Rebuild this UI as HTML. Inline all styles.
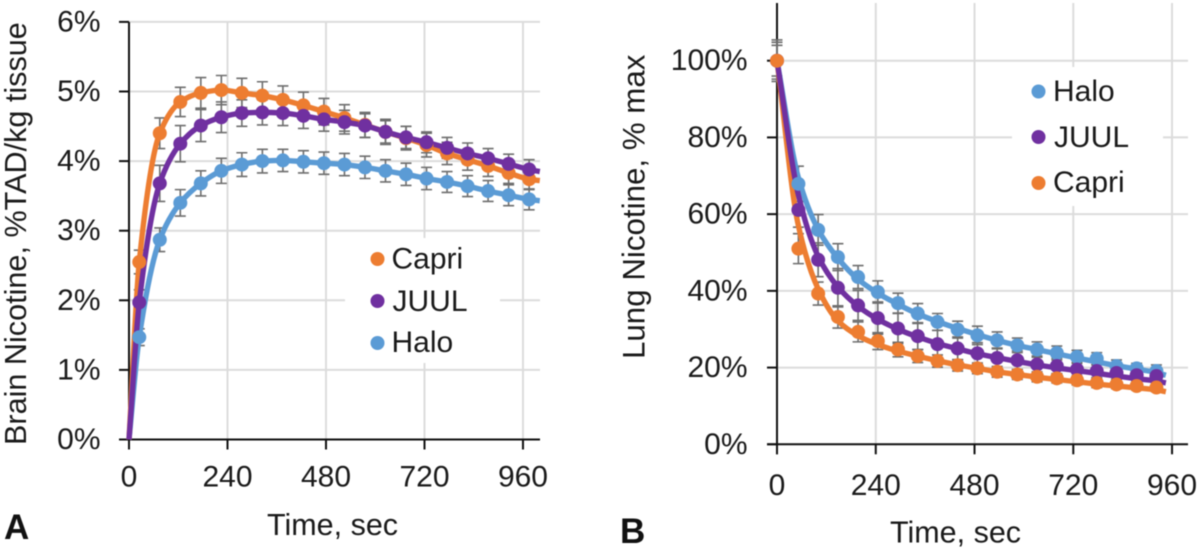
<!DOCTYPE html>
<html lang="en">
<head>
<meta charset="utf-8">
<title>Brain and lung nicotine over time</title>
<style>
html,body{margin:0;padding:0;background:#fff;width:1200px;height:550px;overflow:hidden}
svg{display:block;filter:blur(.45px)}
text{font-family:"Liberation Sans",Arial,sans-serif;fill:#1a1a1a}
</style>
</head>
<body>
<svg id="figure" xmlns="http://www.w3.org/2000/svg" width="1200" height="550" viewBox="0 0 1200 550">
  <rect width="1200" height="550" fill="#fff"/>
  <g id="panelA"></g>
  <g id="panelB"></g>

  <g>
    <text transform="translate(26,445) rotate(-90)" font-size="30.6">Brain Nicotine, %TAD/kg tissue</text>
    <text x="267" y="535" font-size="30.5">Time, sec</text>
    <text x="4" y="539" font-size="35" font-weight="bold" style="fill:#111">A</text>
  </g>
  <g>
    <rect x="345" y="238" width="155" height="125" fill="#fff"/>
    <circle cx="377.5" cy="259" r="7" fill="#ED7D31"/>
    <text x="391.5" y="268.5" font-size="30">Capri</text>
    <circle cx="377.5" cy="301" r="7" fill="#7030A0"/>
    <text x="392.5" y="311" font-size="30">JUUL</text>
    <circle cx="377.5" cy="343" r="7" fill="#5B9BD5"/>
    <text x="391.5" y="352" font-size="30">Halo</text>
  </g>

  <g>
    <text transform="translate(644.5,359) rotate(-90)" font-size="31.3">Lung Nicotine, % max</text>
    <text x="890" y="542.5" font-size="30.5">Time, sec</text>
    <text x="620" y="543" font-size="35" font-weight="bold" style="fill:#111">B</text>
  </g>
  <g>
    <rect x="1012" y="67" width="151" height="139" fill="#fff"/>
    <circle cx="1038.5" cy="91.5" r="7" fill="#5B9BD5"/>
    <text x="1053" y="101" font-size="30">Halo</text>
    <circle cx="1038.5" cy="137" r="7" fill="#7030A0"/>
    <text x="1054" y="147" font-size="30">JUUL</text>
    <circle cx="1038.5" cy="183" r="7" fill="#ED7D31"/>
    <text x="1053" y="192" font-size="30">Capri</text>
  </g>
</svg>

<script>
// ---------- Shared tick data ----------
const xTickValues = [0, 240, 480, 720, 960];
const brainYTicks = [0, 1, 2, 3, 4, 5, 6];
const lungYTicks = [0, 20, 40, 60, 80, 100];

// ---------- Panel A: brain nicotine (%TAD/kg tissue) ----------
const brainTimes = [25,75,125,175,225,275,325,375,425,475,525,575,625,675,725,775,825,875,925,975];
const brainCapri = [2.55,4.40,4.85,4.98,5.02,4.98,4.94,4.88,4.80,4.71,4.62,4.52,4.42,4.33,4.23,4.11,4.02,3.93,3.83,3.74];
const brainJuul  = [1.97,3.68,4.25,4.51,4.63,4.69,4.70,4.69,4.65,4.60,4.56,4.51,4.42,4.34,4.27,4.19,4.11,4.04,3.96,3.88];
const brainHalo  = [1.47,2.87,3.40,3.68,3.86,3.95,4.00,4.01,3.99,3.97,3.95,3.91,3.86,3.81,3.75,3.70,3.64,3.57,3.51,3.45];
const brainCapriErr = [.17,.22,.21,.22,.21,.21,.20,.20,.19,.19,.19,.18,.18,.17,.17,.16,.15,.15,.15,.15];
const brainJuulErr  = [.18,.26,.26,.23,.22,.19,.18,.18,.18,.17,.17,.17,.16,.16,.15,.15,.15,.14,.14,.14];
const brainHaloErr  = [.12,.17,.19,.18,.18,.17,.17,.16,.16,.16,.16,.16,.16,.16,.16,.15,.15,.15,.15,.15];
const brainFitEndTime = 1001;
const brainCapriEnd = 3.72;
const brainJuulEnd = 3.85;
const brainHaloEnd = 3.43;

// ---------- Panel B: lung nicotine (% max) ----------
const lungTimes = [0,52,100,148,197,245,294,342,390,439,487,535,584,632,680,729,777,825,874,922];
const lungHalo  = [100,67.9,55.9,48.8,43.6,39.7,36.8,34.1,31.9,29.9,28.4,27.1,25.8,24.7,23.8,22.8,22.3,20.4,19.8,19.1];
const lungJuul  = [100,61.1,48.1,40.8,36.2,32.9,30.2,28.2,26.1,25.0,23.7,22.5,21.9,20.8,20.4,19.5,19.1,18.6,18.0,17.8];
const lungCapri = [100,51.0,39.3,33.2,29.3,26.9,24.7,23.0,21.7,20.6,19.8,18.9,18.2,17.6,17.2,16.7,16.0,15.6,15.2,14.8];
const lungHaloErr  = [5.4,4.6,4.0,3.5,3.0,2.9,2.6,2.6,2.2,2.2,2.4,2.2,1.9,2.0,1.8,1.7,1.6,1.6,1.3,1.6];
const lungJuulErr  = [4.0,4.5,4.4,5.0,3.9,4.2,3.9,3.5,3.6,3.0,2.8,2.6,2.4,2.2,2.0,1.8,1.7,1.6,1.5,1.5];
const lungCapriErr = [4.8,3.9,3.0,2.9,2.6,2.2,1.9,1.7,1.6,1.5,1.4,1.4,1.3,1.3,1.2,1.2,1.2,1.1,1.1,1.1];
const lungFitTimes = [0,52,100,148,197,245,294,342,390,439,487,535,584,632,680,729,777,825,874,922,945];
const lungHaloFit  = [100,69.5,56,48.5,43,39.4,36.5,34,32,30.2,28.6,27.1,25.8,24.7,23.6,22.5,21.5,20.5,19.6,18.7,18];
const lungJuulFit  = [100,65,49,41,36,32.6,30,28,26.3,24.9,23.6,22.6,21.6,20.7,19.9,19.2,18.5,17.8,17.1,16.5,16];
const lungCapriFit = [100,57,40.5,32.2,28.3,26,24.3,23,21.8,20.7,19.8,18.9,18.2,17.5,16.9,16.3,15.7,15.2,14.7,14.2,13.7];

const SVG_NS = 'http://www.w3.org/2000/svg';
const ORANGE = '#ED7D31', PURPLE = '#7030A0', BLUE = '#5B9BD5';

function make(parent, tag, attrs, content) {
  const node = document.createElementNS(SVG_NS, tag);
  for (const key in attrs) node.setAttribute(key, attrs[key]);
  if (content !== undefined) node.textContent = content;
  parent.appendChild(node);
  return node;
}

// Monotone cubic path through the given pixel points
function smoothPath(pts) {
  const n = pts.length;
  const slopes = [], tangents = [];
  for (let i = 0; i < n - 1; i++) {
    slopes.push((pts[i + 1][1] - pts[i][1]) / (pts[i + 1][0] - pts[i][0]));
  }
  tangents.push(slopes[0]);
  for (let i = 1; i < n - 1; i++) {
    if (slopes[i - 1] * slopes[i] <= 0) {
      tangents.push(0);
    } else {
      const h0 = pts[i][0] - pts[i - 1][0], h1 = pts[i + 1][0] - pts[i][0];
      tangents.push((h0 + h1) * 3 / ((2 * h1 + h0) / slopes[i - 1] + (h1 + 2 * h0) / slopes[i]));
    }
  }
  tangents.push(slopes[n - 2]);
  let d = 'M' + pts[0][0].toFixed(2) + ' ' + pts[0][1].toFixed(2);
  for (let i = 0; i < n - 1; i++) {
    const h = (pts[i + 1][0] - pts[i][0]) / 3;
    d += 'C' + (pts[i][0] + h).toFixed(2) + ' ' + (pts[i][1] + h * tangents[i]).toFixed(2) + ' ' +
         (pts[i + 1][0] - h).toFixed(2) + ' ' + (pts[i + 1][1] - h * tangents[i + 1]).toFixed(2) + ' ' +
         pts[i + 1][0].toFixed(2) + ' ' + pts[i + 1][1].toFixed(2);
  }
  return d;
}

function drawChart(cfg) {
  const root = document.getElementById(cfg.rootId);
  const xOf = t => cfg.x0 + t * cfg.xScale;
  const yOf = v => cfg.y0 - v * cfg.yScale;

  // Gridlines
  const grid = make(root, 'g', {});
  
  
  cfg.yTicks.forEach(v => {
    if (v === 0) return;
    const line = make(grid, 'line', {x1: cfg.x0, x2: cfg.xEnd, y1: yOf(v), y2: yOf(v), stroke: '#dcdcdc', 'stroke-width': 2});
    
    
  });
  xTickValues.forEach(t => {
    if (t === 0) return;
    const line = make(grid, 'line', {x1: xOf(t), x2: xOf(t), y1: cfg.yTop, y2: cfg.y0, stroke: '#dcdcdc', 'stroke-width': 2});
    
    
  });

  // Axes and ticks
  const axes = make(root, 'g', {stroke: '#111', 'stroke-width': 2});
  
  
  const yAxis = make(axes, 'line', {x1: cfg.x0, x2: cfg.x0, y1: cfg.yTop, y2: cfg.y0 + 10});
  
  
  const xAxis = make(axes, 'line', {x1: cfg.x0 - 10, x2: cfg.xEnd, y1: cfg.y0, y2: cfg.y0});
  
  

  cfg.yTicks.forEach(v => {
    const tick = make(axes, 'line', {x1: cfg.x0 - 10, x2: cfg.x0, y1: yOf(v), y2: yOf(v)});
    
    
    const label = make(root, 'text', {x: cfg.yLabelX, y: yOf(v) + cfg.yLabelDy, 'text-anchor': 'end', 'font-size': cfg.fontSize}, v + '%');
    
    
  });
  xTickValues.forEach(t => {
    const tick = make(axes, 'line', {x1: xOf(t), x2: xOf(t), y1: cfg.y0, y2: cfg.y0 + 10});
    
    
    const label = make(root, 'text', {x: xOf(t), y: cfg.xLabelY, 'text-anchor': 'middle', 'font-size': cfg.fontSize}, String(t));
    
    
  });

  // Error bars
  cfg.series.forEach(s => {
    const errs = make(root, 'g', {stroke: '#6e6e6e', 'stroke-width': 1.6, fill: 'none'});
    
    
    s.times.forEach((t, i) => {
      const x = xOf(t), top = yOf(s.values[i] + s.errs[i]), bot = yOf(s.values[i] - s.errs[i]);
      const bar = make(errs, 'path', {d: 'M' + (x - 5.5) + ' ' + top + 'H' + (x + 5.5) + 'M' + x + ' ' + top + 'V' + bot + 'M' + (x - 5.5) + ' ' + bot + 'H' + (x + 5.5)});
      
      
    });
  });

  // Fit lines
  cfg.lineOrder.forEach(s => {
    const pts = s.fitTimes.map((t, i) => [xOf(t), yOf(s.fitValues[i])]);
    const line = make(root, 'path', {d: smoothPath(pts), fill: 'none', stroke: s.color, 'stroke-width': cfg.lineWidth, 'stroke-linecap': 'butt'});
    
    
  });

  // Markers
  cfg.markerOrder.forEach(s => {
    const marks = make(root, 'g', {fill: s.color});
    
    
    s.times.forEach((t, i) => {
      const dot = make(marks, 'circle', {cx: xOf(t), cy: yOf(s.values[i]), r: cfg.markerR});
      
      
    });
  });
}

const brainFitTimes = [0, ...brainTimes, brainFitEndTime];
const aCapri = {name: 'capri', color: ORANGE, times: brainTimes, values: brainCapri, errs: brainCapriErr, fitTimes: brainFitTimes, fitValues: [0, ...brainCapri, brainCapriEnd]};
const aJuul = {name: 'juul', color: PURPLE, times: brainTimes, values: brainJuul, errs: brainJuulErr, fitTimes: brainFitTimes, fitValues: [0, ...brainJuul, brainJuulEnd]};
const aHalo = {name: 'halo', color: BLUE, times: brainTimes, values: brainHalo, errs: brainHaloErr, fitTimes: brainFitTimes, fitValues: [0, ...brainHalo, brainHaloEnd]};

drawChart({
  key: 'brain', rootId: 'panelA',
  x0: 129, xScale: 0.4104, xEnd: 540,
  y0: 439.5, yScale: 69.6, yTop: 22,
  yTicks: brainYTicks, yLabelX: 100.5, yLabelDy: 9.5, xLabelY: 486.5, fontSize: 30,
  lineWidth: 5.4, markerR: 7,
  series: [aCapri, aJuul, aHalo],
  lineOrder: [aHalo, aCapri, aJuul],
  markerOrder: [aCapri, aHalo, aJuul]
});

const bHalo = {name: 'halo', color: BLUE, times: lungTimes, values: lungHalo, errs: lungHaloErr, fitTimes: lungFitTimes, fitValues: lungHaloFit};
const bJuul = {name: 'juul', color: PURPLE, times: lungTimes, values: lungJuul, errs: lungJuulErr, fitTimes: lungFitTimes, fitValues: lungJuulFit};
const bCapri = {name: 'capri', color: ORANGE, times: lungTimes, values: lungCapri, errs: lungCapriErr, fitTimes: lungFitTimes, fitValues: lungCapriFit};

drawChart({
  key: 'lung', rootId: 'panelB',
  x0: 777, xScale: 0.4115, xEnd: 1188,
  y0: 444.3, yScale: 3.836, yTop: 3,
  yTicks: lungYTicks, yLabelX: 747.5, yLabelDy: 9.5, xLabelY: 495, fontSize: 30,
  lineWidth: 5.4, markerR: 7,
  series: [bCapri, bJuul, bHalo],
  lineOrder: [bCapri, bHalo, bJuul],
  markerOrder: [bHalo, bJuul, bCapri]
});

// Keep legends and static labels above the plotted content
const figure = document.getElementById('figure');
Array.from(figure.children).forEach(node => {
  if (node.id !== 'panelA' && node.id !== 'panelB' && node.tagName.toLowerCase() !== 'rect') figure.appendChild(node);
});
</script>
</body>
</html>
